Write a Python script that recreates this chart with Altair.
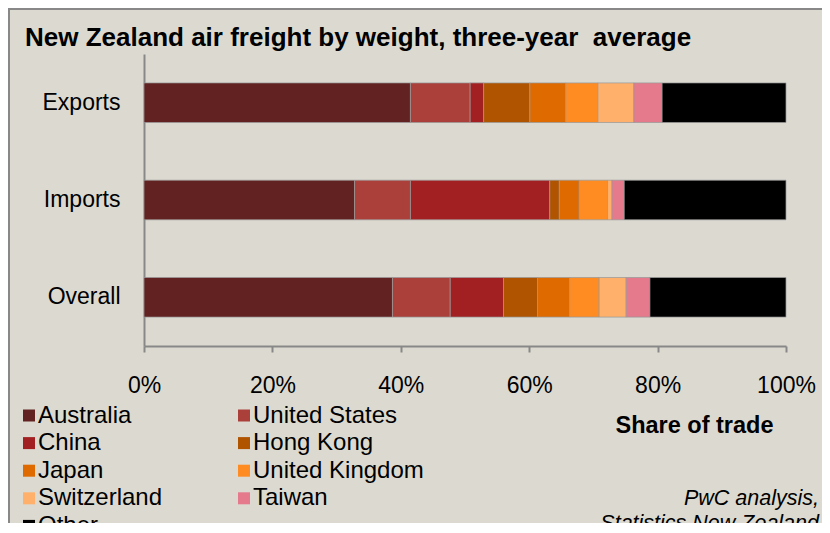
import altair as alt
import pandas as pd

categories = ["Exports", "Imports", "Overall"]
countries = ["Australia", "United States", "China", "Hong Kong", "Japan",
             "United Kingdom", "Switzerland", "Taiwan", "Other"]
exports_share = [41.5, 9.3, 2.1, 7.2, 5.6, 5.0, 5.6, 4.4, 19.3]
imports_share = [32.8, 8.7, 21.7, 1.5, 3.1, 4.4, 0.7, 1.9, 25.2]
overall_share = [38.7, 9.0, 8.3, 5.3, 5.0, 4.6, 4.2, 3.7, 21.2]
colors = ["#632222", "#AB3F3A", "#A32022", "#B05400", "#DE6A00",
          "#FF8C22", "#FFB06B", "#E47A8C", "#000000"]
x_ticks = [0, 0.2, 0.4, 0.6, 0.8, 1.0]
title_text = "New Zealand air freight by weight, three-year\u00a0 average"
source_lines = ["PwC analysis,", "Statistics New Zealand"]

rows = []
for cat, vals in zip(categories, [exports_share, imports_share, overall_share]):
    for i, (c, v) in enumerate(zip(countries, vals)):
        rows.append({"flow": cat, "country": c, "share": v, "order": i})
df = pd.DataFrame(rows)

FONT = "Liberation Sans"

bars = alt.Chart(df).mark_bar(stroke="#999999", strokeWidth=0.75).encode(
    y=alt.Y("flow:N", sort=categories,
            scale=alt.Scale(paddingInner=0.593, paddingOuter=0.297),
            axis=alt.Axis(title=None, ticks=False, grid=False, domainColor="#888888",
                          domainWidth=2, labelFontSize=23, labelFont=FONT,
                          labelColor="#000000", labelPadding=24)),
    x=alt.X("share:Q", stack="normalize",
            scale=alt.Scale(domain=[0, 1]),
            axis=alt.Axis(values=x_ticks, format=".0%", grid=False,
                          labelFlush=False,
                          domainColor="#888888", domainWidth=2,
                          tickColor="#888888", tickWidth=2, tickSize=6,
                          labelFontSize=23, labelFont=FONT, labelColor="#000000",
                          labelPadding=22,
                          title="Share of trade", titleFont=FONT, titleFontSize=23.5,
                          titleFontWeight="bold", titleColor="#000000",
                          titleX=550, titleY=86, titleAlign="center",
                          titleBaseline="alphabetic")),
    color=alt.Color("country:N",
                    scale=alt.Scale(domain=countries, range=colors),
                    legend=alt.Legend(title=None, orient="none", legendX=-127, legendY=349.5,
                                      direction="horizontal",
                                      columns=2, columnPadding=69, rowPadding=3.6,
                                      symbolType="square", symbolSize=144,
                                      symbolStrokeWidth=0, symbolOpacity=1,
                                      labelFontSize=24, labelFont=FONT,
                                      labelColor="#000000",
                                      labelOffset={"expr": "-3"},
                                      padding=0, labelLimit=400)),
    order=alt.Order("order:Q"),
)

src_df = pd.DataFrame({"line": source_lines, "ypos": [445, 470]})
source = alt.Chart(src_df).mark_text(
    align="right", baseline="middle", fontStyle="italic", fontSize=21.5,
    font=FONT, color="#000000"
).encode(
    text="line:N",
    x=alt.value(675),
    y=alt.Y("ypos:Q", scale=None),
)

title_df = pd.DataFrame({"t": [title_text]})
title = alt.Chart(title_df).mark_text(
    align="left", baseline="alphabetic", fontSize=26, font=FONT,
    fontWeight="bold", color="#000000"
).encode(
    text="t:N",
    x=alt.value(-119),
    y=alt.value(-8),
)

border_df = pd.DataFrame({"a": [0]})
border = alt.Chart(border_df).mark_rect(
    fill=None, stroke="#888888", strokeWidth=2
).encode(
    x=alt.value(-135), x2=alt.value(720),
    y=alt.value(-45), y2=alt.value(520),
)

chart = alt.layer(border, bars, source, title).properties(
    width=642, height=292,
    padding={"left": 136, "top": 46, "right": 36, "bottom": 177},
    autosize=alt.AutoSizeParams(type="none"),
    background="#DCDAD0",
).configure_view(stroke=None)

chart.save("out.html", embed_options={"renderer": "svg", "actions": False})
